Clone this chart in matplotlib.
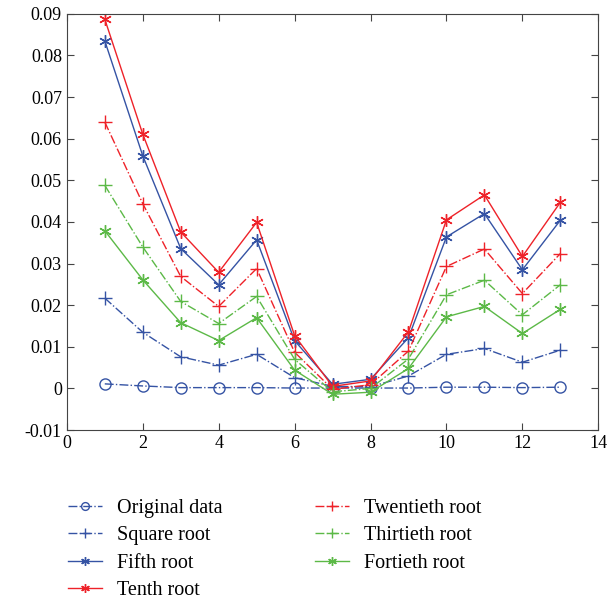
import numpy as np
import matplotlib
matplotlib.use("Agg")
import matplotlib.pyplot as plt

plt.rcParams["font.family"] = ["Liberation Serif", "DejaVu Serif"]

x = np.arange(1, 14)

original = [0.0011, 0.0006, 0.0002, 0.0002, 0.0002, 0.0001, 0.0001, 0.0001, 0.0001, 0.0003, 0.0003, 0.0002, 0.0003]
square = [0.0217, 0.0135, 0.0076, 0.0056, 0.0082, 0.0026, 0.0005, 0.0004, 0.0030, 0.0082, 0.0096, 0.0063, 0.0092]
fifth = [0.0835, 0.0559, 0.0336, 0.0249, 0.0357, 0.0115, 0.0010, 0.0022, 0.0122, 0.0364, 0.0420, 0.0285, 0.0404]
tenth = [0.0887, 0.0611, 0.0376, 0.0279, 0.0399, 0.0127, 0.0005, 0.0018, 0.0136, 0.0405, 0.0465, 0.0317, 0.0447]
twentieth = [0.0640, 0.0444, 0.0269, 0.0197, 0.0288, 0.0087, -0.0002, 0.0009, 0.0090, 0.0293, 0.0335, 0.0228, 0.0324]
thirtieth = [0.0488, 0.0340, 0.0209, 0.0156, 0.0221, 0.0070, -0.0008, 0.0000, 0.0071, 0.0225, 0.0260, 0.0177, 0.0249]
fortieth = [0.0379, 0.0261, 0.0158, 0.0115, 0.0170, 0.0044, -0.0014, -0.0009, 0.0048, 0.0172, 0.0197, 0.0132, 0.0190]

blue = "#3553a4"
red = "#ee2229"
green = "#5cb947"

fig = plt.figure(figsize=(6.13, 5.99), dpi=100)
ax = fig.add_axes([0.109, 0.282, 0.867, 0.695])

ax.plot(x, original, color=blue, ls="-.", lw=1, marker="o", ms=8, mfc="none", mew=1, label="Original data")
ax.plot(x, square, color=blue, ls="-.", lw=1, marker="+", ms=10, mew=1, label="Square root")
ax.plot(x, fifth, color=blue, ls="-", lw=1, marker=(6, 2, 0), ms=9, mew=1, label="Fifth root")
ax.plot(x, tenth, color=red, ls="-", lw=1, marker=(6, 2, 0), ms=9, mew=1, label="Tenth root")
ax.plot(x, twentieth, color=red, ls="-.", lw=1, marker="+", ms=10, mew=1, label="Twentieth root")
ax.plot(x, thirtieth, color=green, ls="-.", lw=1, marker="+", ms=10, mew=1, label="Thirtieth root")
ax.plot(x, fortieth, color=green, ls="-", lw=1, marker=(6, 2, 0), ms=9, mew=1, label="Fortieth root")

ax.set_xlim(0, 14)
ax.set_ylim(-0.01, 0.09)
ax.set_xticks(np.arange(0, 15, 2))
ax.set_yticks(np.arange(-0.01, 0.0901, 0.01))
ax.set_yticklabels(["-0.01", "0", "0.01", "0.02", "0.03", "0.04", "0.05", "0.06", "0.07", "0.08", "0.09"])
ax.tick_params(direction="in", top=True, right=True, labelsize=13, length=5, color="#444444")
for s in ax.spines.values():
    s.set_color("#444444")

fig.legend(loc="upper left", bbox_to_anchor=(0.097, 0.18), ncol=2, frameon=False,
           fontsize=14.5, handlelength=1.7, handletextpad=0.75, columnspacing=4.6,
           labelspacing=0.4, borderaxespad=0, markerscale=0.7)

fig.savefig("out.png", dpi=100)
